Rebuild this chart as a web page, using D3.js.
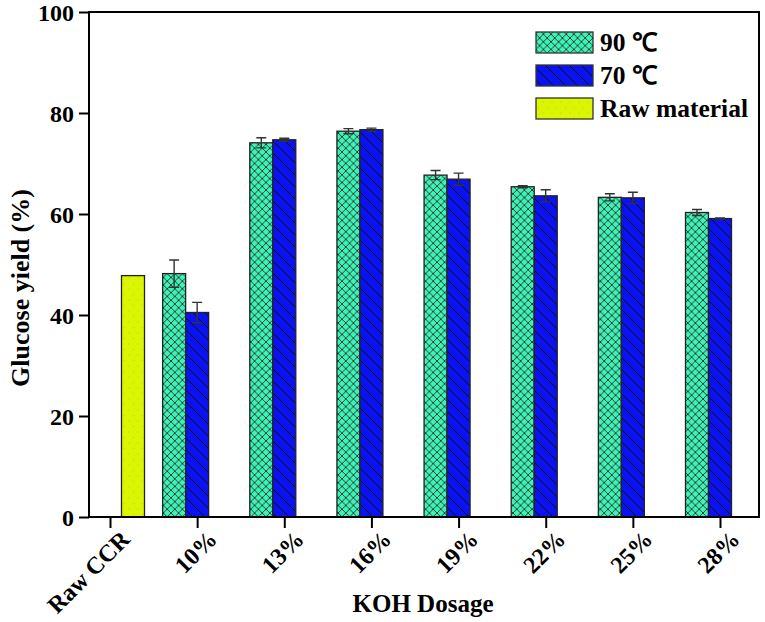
<!DOCTYPE html>
<html><head><meta charset="utf-8">
<script src="https://cdn.jsdelivr.net/npm/d3@7/dist/d3.min.js"></script>
<style>body{margin:0;background:#fff}svg{display:block}text{font-family:"Liberation Serif","Times New Roman",serif;font-weight:bold;fill:#000}</style>
</head><body><svg id="c" width="765" height="622"></svg>
<script>
const categories = ["Raw CCR","10%","13%","16%","19%","22%","25%","28%"];
const rawValues = [47.8, null, null, null, null, null, null, null];
const t90Values = [null, 48.2, 74.1, 76.4, 67.7, 65.4, 63.3, 60.3];
const t90Errors = [null, 2.7, 1.0, 0.5, 0.9, 0.2, 0.7, 0.6];
const t70Values = [null, 40.5, 74.7, 76.7, 66.9, 63.6, 63.2, 59.1];
const t70Errors = [null, 2.0, 0.3, 0.3, 1.2, 1.2, 1.1, 0.1];
const yTicks = [0, 20, 40, 60, 80, 100];
const seriesNames = ["90 \u2103", "70 \u2103", "Raw material"];

const svg = d3.select("#c");
const L = 89, R = 759, T = 12, B = 517;
const x = d3.scaleLinear().domain([0, categories.length - 1]).range([110, 720]);
const y = d3.scaleLinear().domain([0, 100]).range([B, T]);
const bw = 23;

const defs = svg.append("defs");
const pg = defs.append("pattern").attr("id","pGreen").attr("patternUnits","userSpaceOnUse").attr("width",7.6).attr("height",7.6);
pg.append("rect").attr("width",7.6).attr("height",7.6).attr("fill","#40f2b6");
pg.append("path").attr("d","M0,0L7.6,7.6M7.6,0L0,7.6M-1,6.6L1,8.6M6.6,-1L8.6,1M-1,1L1,-1M6.6,8.6L8.6,6.6").attr("stroke","#1a1a1a").attr("stroke-width",0.8);
const pb = defs.append("pattern").attr("id","pBlue").attr("patternUnits","userSpaceOnUse").attr("width",12).attr("height",12);
pb.append("rect").attr("width",12).attr("height",12).attr("fill","#0a12f0");
pb.append("path").attr("d","M0,0L12,12M-3,9L3,15M9,-3L15,3").attr("stroke","#111").attr("stroke-width",1);
const py = defs.append("pattern").attr("id","pYellow").attr("patternUnits","userSpaceOnUse").attr("width",9).attr("height",11);
py.append("rect").attr("width",9).attr("height",11).attr("fill","#dcf500");
py.append("circle").attr("cx",3).attr("cy",3).attr("r",0.8).attr("fill","#a8ea30");
py.append("circle").attr("cx",7.5).attr("cy",8.5).attr("r",0.8).attr("fill","#a8ea30");

const series = [
  {vals: t90Values, errs: t90Errors, off: -1, fill: "url(#pGreen)"},
  {vals: t70Values, errs: t70Errors, off: 0, fill: "url(#pBlue)"},
  {vals: rawValues, errs: rawValues.map(()=>null), off: 1, fill: "url(#pYellow)"}
];

series.forEach(s => {
  const data = s.vals.map((v,i)=>({v, e:s.errs[i], i})).filter(d=>d.v!=null);
  const g = svg.append("g");
  g.selectAll("rect").data(data).enter().append("rect")
    .attr("x", d => x(d.i) + s.off*bw - bw/2)
    .attr("y", d => y(d.v))
    .attr("width", bw).attr("height", d => B - y(d.v))
    .attr("fill", s.fill).attr("stroke", "#222").attr("stroke-width", 1.3);
  const eg = g.selectAll("g.err").data(data.filter(d=>d.e!=null)).enter().append("g");
  eg.append("path").attr("d", d => {
    const cx = x(d.i) + s.off*bw, y1 = y(d.v + d.e), y0 = y(d.v - d.e);
    return `M${cx},${y0}L${cx},${y1}M${cx-5},${y1}L${cx+5},${y1}M${cx-5},${y0}L${cx+5},${y0}`;
  }).attr("stroke","#333").attr("stroke-width",1.4).attr("fill","none");
});

svg.append("rect").attr("x",L).attr("y",T).attr("width",R-L).attr("height",B-T)
  .attr("fill","none").attr("stroke","#000").attr("stroke-width",2);

const yAxis = svg.append("g").attr("transform",`translate(${L},0)`)
  .call(d3.axisLeft(y).tickValues(yTicks).tickSize(10).tickPadding(5));
yAxis.select(".domain").remove();
yAxis.selectAll("line").attr("stroke","#000").attr("stroke-width",2);
yAxis.selectAll("text").style("font-size","24px").attr("fill","#000").attr("dy","0.34em");

const xAxis = svg.append("g").attr("transform",`translate(0,${B})`)
  .call(d3.axisBottom(x).tickValues(d3.range(categories.length)).tickFormat(i=>categories[i]).tickSize(11));
xAxis.select(".domain").remove();
xAxis.selectAll("line").attr("stroke","#000").attr("stroke-width",2);
xAxis.selectAll("text").style("font-size","24px").attr("fill","#000")
  .attr("text-anchor","end").attr("y",0).attr("dy","0.75em")
  .attr("transform","translate(8,11) rotate(-45)");

svg.append("text").attr("x",423).attr("y",612).attr("text-anchor","middle").style("font-size","25px").text("KOH Dosage");
svg.append("text").attr("transform","translate(29,288) rotate(-90)").attr("text-anchor","middle").style("font-size","26px").text("Glucose yield (%)");

const lg = svg.append("g");
const lfills = ["url(#pGreen)","url(#pBlue)","url(#pYellow)"];
const ly = [32, 65, 98];
seriesNames.forEach((n,i)=>{
  lg.append("rect").attr("x",536).attr("y",ly[i]).attr("width",57).attr("height",21)
    .attr("fill",lfills[i]).attr("stroke","#333").attr("stroke-width",1.3);
  lg.append("text").attr("x",600).attr("y",ly[i]+19).style("font-size","25.5px").text(n);
});
</script></body></html>
